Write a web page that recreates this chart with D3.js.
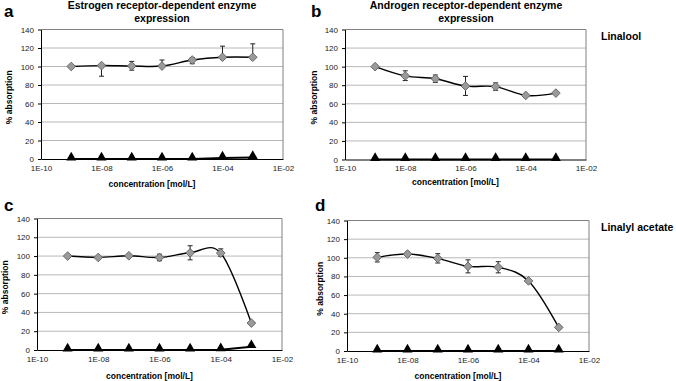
<!DOCTYPE html>
<html>
<head>
<meta charset="utf-8">
<script src="https://cdn.jsdelivr.net/npm/d3@7"></script>
<style>
  body { margin: 0; background: #fff; }
  svg { display: block; font-family: "Liberation Sans", Arial, sans-serif; }
</style>
</head>
<body>
<svg id="fig" width="676" height="381"></svg>
<script>
// concentrations (mol/L) and axis labels
const concentrations = [1e-9, 1e-8, 1e-7, 1e-6, 1e-5, 1e-4, 1e-3];
const xTickValues = [1e-10, 1e-8, 1e-6, 1e-4, 1e-2];
const xTickLabels = ["1E-10", "1E-08", "1E-06", "1E-04", "1E-02"];
const yTicks = [0, 20, 40, 60, 80, 100, 120, 140];

// a: estrogen / linalool
const estLinalool      = [100, 101, 100.5, 100.5, 107, 110, 110];
const estLinaloolLo    = [0, 11.5, 4.5, 0, 4, 2, 0];
const estLinaloolHi    = [0, 0, 5, 6.5, 2.5, 12, 14.5];
const estLinaloolCtrl  = [0, 0, 0, 0, 0, 1, 1.5];
// b: androgen / linalool
const andLinalool      = [100, 90, 87, 79, 78.5, 69, 71.5];
const andLinaloolLo    = [0, 5, 4, 10, 4, 0, 0];
const andLinaloolHi    = [0, 5.5, 4, 10.5, 4, 0, 0];
const andLinaloolCtrl  = [0, 0, 0, 0, 0, 0, 0];
// c: estrogen / linalyl acetate
const estAcetate       = [100, 98.5, 100.3, 98.5, 103.5, 103.2, 28.7];
const estAcetateLo     = [1, 1, 1, 3.5, 7.5, 3.5, 0];
const estAcetateHi     = [1, 1, 1, 3.5, 7.5, 4.5, 0];
const estAcetateCtrl   = [0, 0, 0, 0, 0, 0.3, 3.5];
// d: androgen / linalyl acetate
const andAcetate       = [100.5, 104, 99.4, 90.8, 89.8, 75.2, 25.3];
const andAcetateLo     = [5, 2, 5, 7, 6, 0, 0];
const andAcetateHi     = [5, 2, 5, 7, 6, 0, 0];
const andAcetateCtrl   = [0, 0, 0, 0, 0, 0, 0];

const panels = [
  { letter: "a", x0: 41, x1: 283, y0: 29.5, y1: 159, vals: estLinalool, lo: estLinaloolLo, hi: estLinaloolHi, ctrl: estLinaloolCtrl,
    title: ["Estrogen receptor-dependent enzyme", "expression"], titleX: 162, letterX: 4, letterY: 17, ylabX: 9, xlabY: 187 },
  { letter: "b", x0: 345, x1: 586, y0: 29.5, y1: 159.5, vals: andLinalool, lo: andLinaloolLo, hi: andLinaloolHi, ctrl: andLinaloolCtrl,
    title: ["Androgen receptor-dependent enzyme", "expression"], titleX: 466, letterX: 311, letterY: 17, ylabX: 314, xlabY: 185, side: "Linalool" },
  { letter: "c", x0: 37, x1: 282, y0: 218.5, y1: 350, vals: estAcetate, lo: estAcetateLo, hi: estAcetateHi, ctrl: estAcetateCtrl,
    letterX: 4, letterY: 211, ylabX: 5, xlabY: 379 },
  { letter: "d", x0: 347, x1: 589, y0: 220.5, y1: 351, vals: andAcetate, lo: andAcetateLo, hi: andAcetateHi, ctrl: andAcetateCtrl,
    letterX: 315, letterY: 211, ylabX: 320, xlabY: 379, side: "Linalyl acetate" }
];

const svg = d3.select("#fig");

panels.forEach(p => {
  const x = d3.scaleLog().domain([1e-10, 1e-2]).range([p.x0, p.x1]);
  const y = d3.scaleLinear().domain([0, 140]).range([p.y1, p.y0]);
  const g = svg.append("g");

  const pts = p.vals.map((v, i) => ({ c: concentrations[i], v: v, lo: p.lo[i], hi: p.hi[i] }));

  // grid
  g.selectAll("line.grid").data(yTicks.slice(1)).enter().append("line")
    .attr("x1", p.x0).attr("x2", p.x1)
    .attr("y1", d => y(d)).attr("y2", d => y(d))
    .attr("stroke", "#b8b8b8").attr("stroke-width", 1);

  // frame (top/right gray)
  g.append("path")
    .attr("d", `M${p.x0},${p.y0}H${p.x1}V${p.y1}`)
    .attr("fill", "none").attr("stroke", "#808080").attr("stroke-width", 1);

  // axes
  const yAxis = g.append("g").attr("transform", `translate(${p.x0},0)`)
    .call(d3.axisLeft(y).tickValues(yTicks).tickSize(3).tickSizeOuter(0).tickPadding(4));
  const xAxis = g.append("g").attr("transform", `translate(0,${p.y1})`)
    .call(d3.axisBottom(x).tickValues(xTickValues).tickFormat((d, i) => xTickLabels[i]).tickSize(0).tickPadding(6));
  [yAxis, xAxis].forEach(a => {
    a.selectAll("text").attr("font-size", 8).attr("fill", "#222").attr("font-family", "Liberation Sans, Arial, sans-serif");
    a.selectAll("line, path").attr("stroke", "#000");
  });

  // control series (triangles)
  g.append("path").datum(p.ctrl)
    .attr("d", d3.line().x((d, i) => x(concentrations[i])).y(d => y(d)))
    .attr("fill", "none").attr("stroke", "#000").attr("stroke-width", 2);
  g.selectAll("path.tri").data(p.ctrl).enter().append("path")
    .attr("d", d3.symbol(d3.symbolTriangle, 44))
    .attr("transform", (d, i) => `translate(${x(concentrations[i])},${y(d) - 1.5})`)
    .attr("fill", "#000");

  // main series line
  g.append("path").datum(pts)
    .attr("d", d3.line().curve(d3.curveCardinal.tension(0)).x(d => x(d.c)).y(d => y(d.v)))
    .attr("fill", "none").attr("stroke", "#000").attr("stroke-width", 1.4);

  // error bars
  const bars = pts.filter(d => d.lo > 0 || d.hi > 0);
  g.selectAll("line.eb").data(bars).enter().append("line")
    .attr("x1", d => x(d.c)).attr("x2", d => x(d.c))
    .attr("y1", d => y(d.v - d.lo)).attr("y2", d => y(d.v + d.hi))
    .attr("stroke", "#222").attr("stroke-width", 1);
  const caps = [];
  pts.forEach(d => {
    if (d.hi > 0) caps.push({ c: d.c, v: d.v + d.hi });
    if (d.lo > 0) caps.push({ c: d.c, v: d.v - d.lo });
  });
  g.selectAll("line.cap").data(caps).enter().append("line")
    .attr("x1", d => x(d.c) - 2.5).attr("x2", d => x(d.c) + 2.5)
    .attr("y1", d => y(d.v)).attr("y2", d => y(d.v))
    .attr("stroke", "#222").attr("stroke-width", 1);

  // diamonds
  g.selectAll("path.dia").data(pts).enter().append("path")
    .attr("d", d3.symbol(d3.symbolSquare, 38))
    .attr("transform", d => `translate(${x(d.c)},${y(d.v)}) rotate(45)`)
    .attr("fill", "#9a9a9a").attr("stroke", "#5a5a5a").attr("stroke-width", 0.8);

  // labels
  g.append("text").text(p.letter)
    .attr("x", p.letterX).attr("y", p.letterY)
    .attr("font-size", 17).attr("font-weight", "bold");
  g.append("text").text("% absorption")
    .attr("transform", `translate(${p.ylabX + 3},${(p.y0 + p.y1) / 2 + 3}) rotate(-90)`)
    .attr("text-anchor", "middle").attr("font-size", 8.5).attr("font-weight", "bold");
  g.append("text").text("concentration [mol/L]")
    .attr("x", (p.x0 + p.x1) / 2 - 10).attr("y", p.xlabY)
    .attr("text-anchor", "middle").attr("font-size", 8.5).attr("font-weight", "bold");
  if (p.title) {
    g.selectAll("text.title").data(p.title).enter().append("text")
      .text(d => d)
      .attr("x", p.titleX).attr("y", (d, i) => 9 + i * 12.5)
      .attr("text-anchor", "middle").attr("font-size", 10.5).attr("font-weight", "bold");
  }
  if (p.side) {
    g.append("text").text(p.side)
      .attr("x", 601).attr("y", p.y0 + 10)
      .attr("font-size", 10.5).attr("font-weight", "bold");
  }
});
</script>
</body>
</html>
